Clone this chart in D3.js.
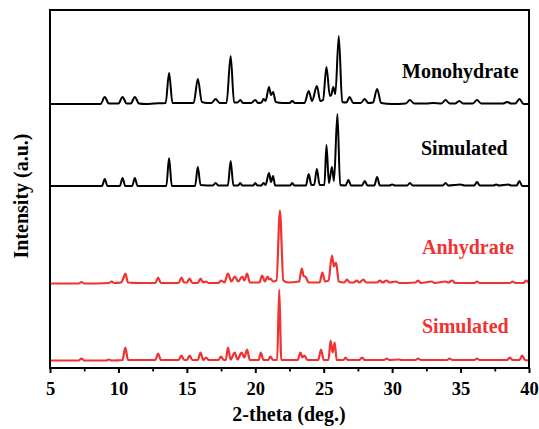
<!DOCTYPE html>
<html><head><meta charset="utf-8">
<script src="https://cdn.jsdelivr.net/npm/d3@7"></script>
<style>body{margin:0;background:#fff}svg{display:block}</style>
</head><body><svg id="c" width="539" height="429"></svg>
<script>
// ---- data ----
const xTicks = [5, 10, 15, 20, 25, 30, 35, 40];
const xMinorTicks = [7.5, 12.5, 17.5, 22.5, 27.5, 32.5, 37.5];
const seriesNames = ["Monohydrate", "Simulated", "Anhydrate", "Simulated"];
const seriesOffsets = [264, 182, 84.5, 7.5];
const seriesColors = ["#000000", "#000000", "#f03232", "#f03232"];

const monohydrate = [[5,0],[8.7,0],[9.0,7],[9.3,0.5],[10.0,0.5],[10.3,7],[10.6,0.5],[10.9,0.5],[11.2,7],[11.5,0.5],[12.0,0],[12.6,0.5],[13.45,1],[13.7,31],[13.95,1],[15.5,1],[15.8,25],[16.1,2],[16.5,1],[16.8,1],[17.1,5],[17.4,1],[17.9,1],[18.2,48],[18.45,1.5],[18.7,1.5],[18.9,4],[19.1,1],[19.7,1],[20.0,4],[20.2,1],[20.45,1.5],[20.6,5],[20.75,3],[21.0,17],[21.15,9],[21.3,12],[21.5,2],[22.0,1],[22.5,1],[22.7,3],[22.9,1],[23.6,1],[23.9,13],[24.15,3],[24.5,18],[24.75,3],[24.95,4],[25.2,37],[25.45,8],[25.55,9],[25.7,17],[25.85,10],[26.1,68],[26.35,2],[26.65,1.5],[26.9,7],[27.15,1],[27.7,1],[28.0,5],[28.25,1],[28.6,1.5],[28.9,15],[29.2,1],[30,0],[31.0,0.5],[31.3,4],[31.6,0.5],[32.5,0.5],[33.0,1],[33.6,0.5],[33.9,4],[34.2,0.5],[34.6,0.5],[34.9,3],[35.2,0.5],[35.9,0.5],[36.2,4],[36.5,0.5],[37.5,0.5],[38.1,0.5],[38.4,2],[38.7,0.5],[39.0,0.5],[39.3,5],[39.6,0],[40,0]];

const simMono = [[5,0],[8.8,0],[9.0,7],[9.2,0],[10.1,0],[10.3,8],[10.5,0],[11.0,0],[11.2,8],[11.4,0],[13.5,0],[13.7,28],[13.9,0],[15.6,0],[15.8,19],[16.0,1],[16.9,0.5],[17.1,3],[17.3,0.5],[18.0,0.5],[18.2,25],[18.4,0.5],[18.75,0.5],[18.9,3],[19.05,0.5],[19.85,0.5],[20.0,3],[20.15,0.5],[20.45,0.5],[20.6,3],[20.75,1],[21.0,13],[21.15,4],[21.3,10],[21.45,0.5],[22.55,0.5],[22.7,3],[22.85,0.5],[23.7,0.5],[23.9,12],[24.1,1],[24.3,1],[24.5,17],[24.7,1],[25.05,1],[25.2,41],[25.38,3],[25.6,19],[25.75,5],[26.0,72],[26.2,1],[26.6,0.5],[26.8,6],[27.0,0.5],[27.8,0.5],[28.0,5],[28.2,0.5],[28.7,0.5],[28.9,9],[29.1,0.5],[29.8,0.5],[30.0,1.5],[30.2,0.5],[31.1,0.5],[31.3,3],[31.5,0.5],[32.5,0.5],[33.7,0.5],[33.9,3],[34.1,0.5],[35.0,1.5],[35.3,0.5],[36.0,0.5],[36.2,4],[36.4,0.5],[37.4,0.5],[37.6,1.5],[37.8,0.5],[38.5,1.5],[38.7,0.5],[39.1,0.5],[39.3,5],[39.5,0],[40,0]];

const anhydrate = [[5,0],[7.1,0],[7.3,1.5],[7.5,0],[9.3,0.5],[9.5,2],[9.7,0.5],[10.2,1],[10.35,5],[10.5,10],[10.7,1],[11.5,0.5],[12.7,0.5],[12.9,6],[13.1,0.5],[14.4,0.5],[14.6,6],[14.8,1],[15.0,1],[15.2,5],[15.4,0.5],[15.8,0.5],[16.0,5],[16.2,1],[16.4,2],[16.6,0.5],[17.3,0.5],[17.5,3],[17.75,1],[18.0,10],[18.25,2],[18.5,7],[18.75,2],[19.05,7],[19.2,3],[19.4,10],[19.6,1],[20.3,1],[20.5,8],[20.7,2],[20.9,7],[21.0,4],[21.1,5],[21.3,2],[21.55,3],[21.8,73],[22.05,3],[22.4,1],[23.2,2],[23.4,15],[23.55,7],[23.65,7],[23.9,1],[24.7,1],[24.9,11],[25.1,2],[25.35,3],[25.6,28],[25.75,17],[25.9,21],[26.1,2],[26.5,1],[26.7,4],[26.9,1],[27.2,1],[27.4,3],[27.6,1],[27.9,4],[28.1,1],[28.9,1],[29.1,3],[29.3,1],[29.6,3],[29.8,1],[30.3,2],[30.5,0.5],[31.7,1],[31.9,3],[32.1,0.5],[32.9,2],[33.1,0.5],[33.9,2],[34.1,1],[34.4,3],[34.6,0.5],[36.0,0.5],[36.2,2],[36.4,0.5],[38.6,0.5],[38.8,2],[39.0,0.5],[39.6,0.5],[39.8,3],[40,0]];

const simAnhydrate = [[5,0],[7.1,0],[7.3,2],[7.5,0],[9.1,0],[9.3,1],[9.5,0],[10.3,0.5],[10.5,13],[10.7,0.5],[12.7,0.5],[12.9,7],[13.1,0.5],[14.4,0.5],[14.6,5],[14.8,0.5],[15.0,0.5],[15.2,5],[15.4,0.5],[15.8,0.5],[16.0,8],[16.2,0.5],[16.4,3],[16.6,0.5],[17.3,0.5],[17.5,4],[17.7,0.5],[17.85,0.5],[18.0,13],[18.2,1],[18.5,8],[18.7,1],[19.0,8],[19.2,3],[19.4,11],[19.6,0.5],[20.25,0.5],[20.4,8],[20.6,0.5],[20.95,0.5],[21.1,4],[21.3,0.5],[21.6,0.5],[21.75,71],[21.9,0.5],[23.1,0.5],[23.3,8],[23.45,3],[23.6,5],[23.8,0.5],[24.6,0.5],[24.8,11],[25.0,0.5],[25.35,0.5],[25.5,20],[25.65,8],[25.8,18],[25.95,0.5],[26.45,0.5],[26.6,3],[26.75,0.5],[27.6,0.5],[27.8,3],[28.0,0.5],[29.4,0.5],[29.6,2],[29.8,0.5],[30.5,1],[30.7,0.5],[31.7,0.5],[31.9,2],[32.1,0.5],[34.0,0.5],[34.2,2],[34.4,0.5],[36.0,0.5],[36.2,2],[36.4,0.5],[38.4,0.5],[38.6,3],[38.8,0.5],[39.3,0.5],[39.5,5],[39.7,0.5],[40,0]];

const seriesData = [monohydrate, simMono, anhydrate, simAnhydrate];

// ---- chart ----
const svg = d3.select("#c");
const mL = 50, mR = 529, mT = 10, mB = 368;
const x = d3.scaleLinear().domain([5, 40]).range([mL, mR]);
const y = d3.scaleLinear().domain([0, 358]).range([mB, mT]);
const font = "Liberation Serif, DejaVu Serif, serif";

const line = d3.line().x(d => x(d[0])).y(d => y(d[1])).curve(d3.curveMonotoneX);

seriesData.forEach((pts, i) => {
  svg.append("path")
    .datum(pts.map(p => [p[0], p[1] + seriesOffsets[i]]))
    .attr("d", line)
    .attr("fill", "none")
    .attr("stroke", seriesColors[i])
    .attr("stroke-width", i < 2 ? 2 : 2.2)
    .attr("stroke-linejoin", "round");
});

// frame
svg.append("rect").attr("x", mL).attr("y", mT).attr("width", mR - mL).attr("height", mB - mT)
  .attr("fill", "none").attr("stroke", "#000").attr("stroke-width", 2);

// bottom axis
const axis = svg.append("g").attr("transform", `translate(0,${mB})`)
  .call(d3.axisBottom(x).tickValues(xTicks).tickSize(5).tickFormat(d3.format("d")));
axis.select(".domain").remove();
axis.selectAll(".tick line").attr("stroke", "#000").attr("stroke-width", 2);
axis.selectAll(".tick text").style("font-family", font).attr("font-weight", "bold")
  .attr("font-size", 18.5).attr("fill", "#000").attr("dy", 0).attr("y", 27);
const minor = svg.append("g").attr("transform", `translate(0,${mB})`)
  .call(d3.axisBottom(x).tickValues(xMinorTicks).tickSize(3.5).tickFormat(""));
minor.select(".domain").remove();
minor.selectAll(".tick line").attr("stroke", "#000").attr("stroke-width", 1.8);

// series labels
const labelPos = [[402, 78], [421, 155], [422, 254], [422, 332.5]];
seriesNames.forEach((n, i) => {
  svg.append("text").attr("x", labelPos[i][0]).attr("y", labelPos[i][1])
    .style("font-family", font).attr("font-weight", "bold").attr("font-size", 20)
    .attr("fill", seriesColors[i]).text(n);
});

// axis titles
svg.append("text").attr("x", 289).attr("y", 421).attr("text-anchor", "middle")
  .style("font-family", font).attr("font-weight", "bold").attr("font-size", 20).text("2-theta (deg.)");
svg.append("text").attr("transform", "translate(28,196) rotate(-90)").attr("text-anchor", "middle")
  .style("font-family", font).attr("font-weight", "bold").attr("font-size", 20).text("Intensity (a.u.)");
</script></body></html>
